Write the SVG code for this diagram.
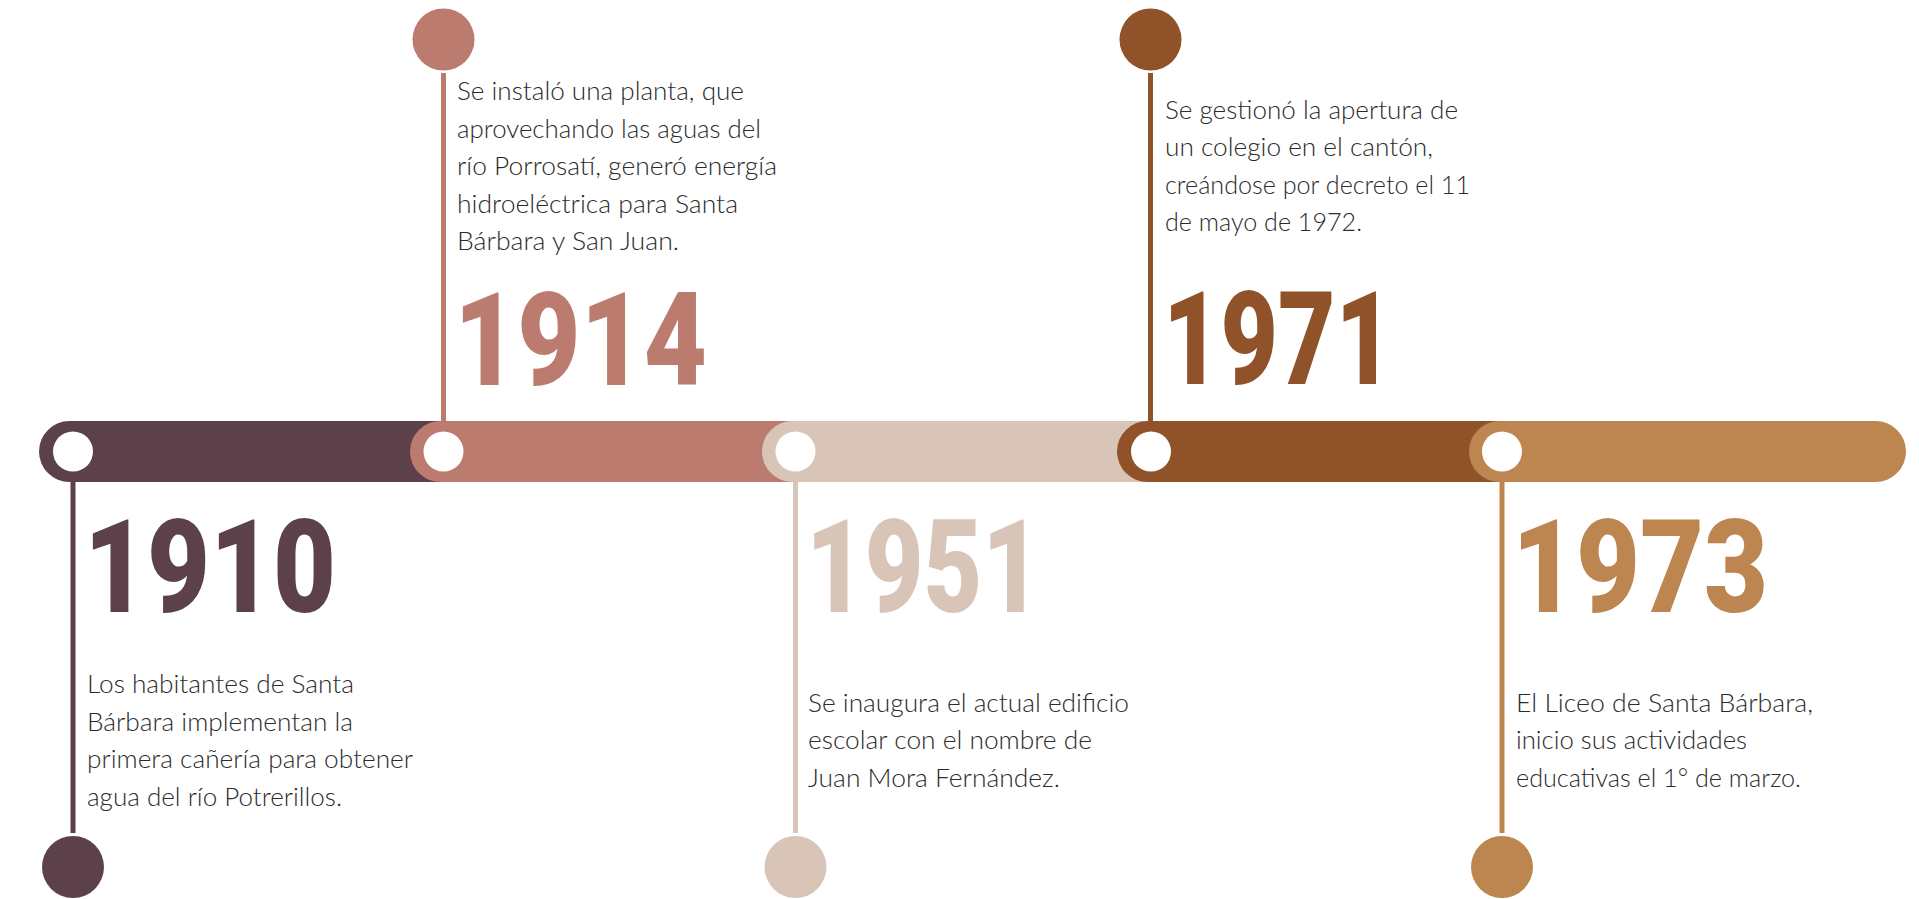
<svg xmlns="http://www.w3.org/2000/svg" width="1919" height="899" viewBox="0 0 1919 899">
<style>
.p{font-family:Lato,"Noto Sans",sans-serif;font-weight:300;font-size:26px;fill:#2b2b2b}
.y{font-family:Roboto,"Noto Sans",sans-serif;font-weight:900;font-size:129px}
.hole{fill:#ffffff}
</style>
<rect width="1919" height="899" fill="#ffffff"/>
<g id="bar">
<rect x="39" y="421" width="440" height="61" rx="30.5" fill="#5d414a"/>
<rect x="410" y="421" width="420" height="61" rx="30.5" fill="#bc7b6f"/>
<rect x="762" y="421" width="420" height="61" rx="30.5" fill="#d9c5b7"/>
<rect x="1117" y="421" width="420" height="61" rx="30.5" fill="#8f5229"/>
<rect x="1469" y="421" width="437" height="61" rx="30.5" fill="#bd8550"/>
</g>
<g id="connectors">
<rect x="70.5" y="482" width="5" height="351" fill="#5d414a"/>
<rect x="441" y="73" width="5" height="348" fill="#bc7b6f"/>
<rect x="793" y="482" width="5" height="351" fill="#d9c5b7"/>
<rect x="1148" y="73" width="5" height="348" fill="#8f5229"/>
<rect x="1499.5" y="482" width="5" height="351" fill="#bd8550"/>
</g>
<g id="n1910">
<circle class="hole" cx="73" cy="451.5" r="20"/>
<circle cx="73" cy="867" r="31" fill="#5d414a"/>
<text class="y" x="84" y="612" fill="#5d414a" textLength="252" lengthAdjust="spacingAndGlyphs">1910</text>
<text class="p" x="87" y="693" textLength="267" lengthAdjust="spacingAndGlyphs">Los habitantes de Santa</text>
<text class="p" x="87" y="730.5" textLength="266" lengthAdjust="spacingAndGlyphs">Bárbara implementan la</text>
<text class="p" x="87" y="768" textLength="326" lengthAdjust="spacingAndGlyphs">primera cañería para obtener</text>
<text class="p" x="87" y="805.5" textLength="255" lengthAdjust="spacingAndGlyphs">agua del río Potrerillos.</text>
</g>
<g id="n1914">
<circle class="hole" cx="443.5" cy="451.5" r="20"/>
<circle cx="443.5" cy="39.5" r="31" fill="#bc7b6f"/>
<text class="y" x="454" y="385" fill="#bc7b6f" textLength="253" lengthAdjust="spacingAndGlyphs">1914</text>
<text class="p" x="457" y="100" textLength="287" lengthAdjust="spacingAndGlyphs">Se instaló una planta, que</text>
<text class="p" x="457" y="137.5" textLength="304" lengthAdjust="spacingAndGlyphs">aprovechando las aguas del</text>
<text class="p" x="457" y="175" textLength="320" lengthAdjust="spacingAndGlyphs">río Porrosatí, generó energía</text>
<text class="p" x="457" y="212.5" textLength="281" lengthAdjust="spacingAndGlyphs">hidroeléctrica para Santa</text>
<text class="p" x="457" y="250" textLength="222" lengthAdjust="spacingAndGlyphs">Bárbara y San Juan.</text>
</g>
<g id="n1951">
<circle class="hole" cx="795.5" cy="451.5" r="20"/>
<circle cx="795.5" cy="867" r="31" fill="#d9c5b7"/>
<text class="y" x="806" y="612" fill="#d9c5b7" textLength="235" lengthAdjust="spacingAndGlyphs">1951</text>
<text class="p" x="808" y="711.5" textLength="321" lengthAdjust="spacingAndGlyphs">Se inaugura el actual edificio</text>
<text class="p" x="808" y="749" textLength="284" lengthAdjust="spacingAndGlyphs">escolar con el nombre de</text>
<text class="p" x="808" y="786.5" textLength="252" lengthAdjust="spacingAndGlyphs">Juan Mora Fernández.</text>
</g>
<g id="n1971">
<circle class="hole" cx="1151" cy="451.5" r="20"/>
<circle cx="1150.5" cy="39.5" r="31" fill="#8f5229"/>
<text class="y" x="1163" y="384" fill="#8f5229" textLength="230" lengthAdjust="spacingAndGlyphs">1971</text>
<text class="p" x="1165" y="118.5" textLength="293" lengthAdjust="spacingAndGlyphs">Se gestionó la apertura de</text>
<text class="p" x="1165" y="156" textLength="268" lengthAdjust="spacingAndGlyphs">un colegio en el cantón,</text>
<text class="p" x="1165" y="193.5" textLength="305" lengthAdjust="spacingAndGlyphs">creándose por decreto el 11</text>
<text class="p" x="1165" y="231" textLength="197" lengthAdjust="spacingAndGlyphs">de mayo de 1972.</text>
</g>
<g id="n1973">
<circle class="hole" cx="1502" cy="451.5" r="20"/>
<circle cx="1502" cy="867" r="31" fill="#bd8550"/>
<text class="y" x="1512" y="612" fill="#bd8550" textLength="256" lengthAdjust="spacingAndGlyphs">1973</text>
<text class="p" x="1516" y="711.5" textLength="297" lengthAdjust="spacingAndGlyphs">El Liceo de Santa Bárbara,</text>
<text class="p" x="1516" y="749" textLength="231" lengthAdjust="spacingAndGlyphs">inicio sus actividades</text>
<text class="p" x="1516" y="786.5" textLength="285" lengthAdjust="spacingAndGlyphs">educativas el 1° de marzo.</text>
</g>
</svg>
